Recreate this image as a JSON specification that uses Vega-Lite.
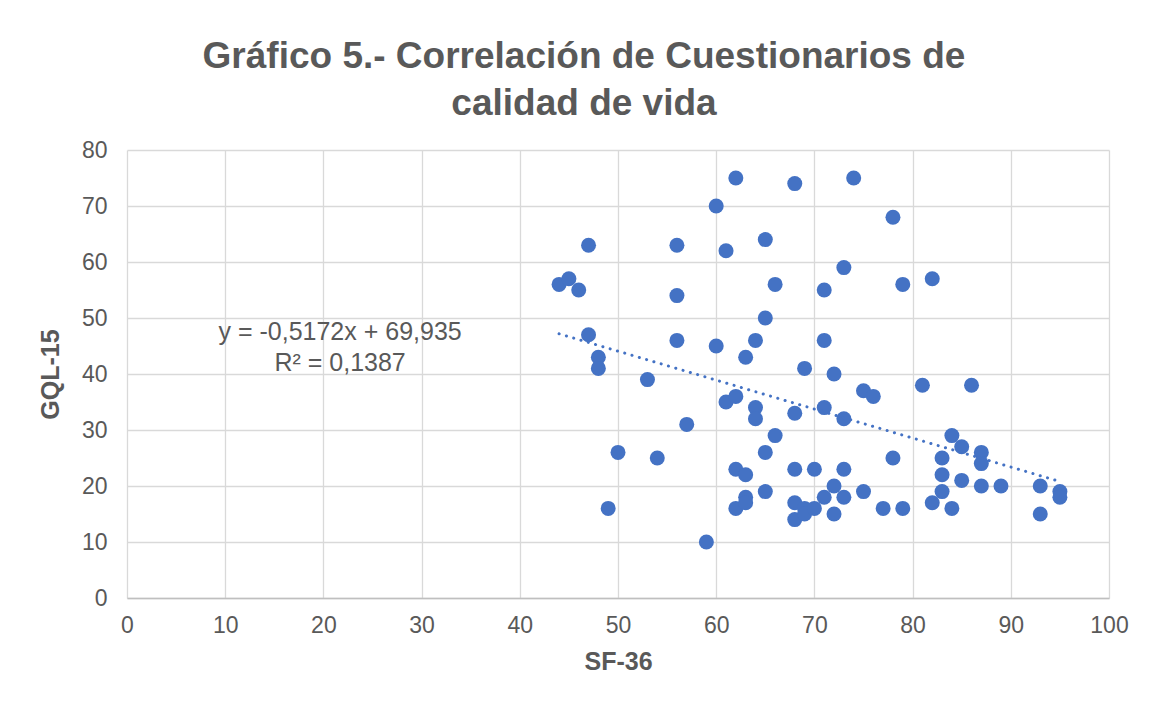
{
  "$schema": "https://vega.github.io/schema/vega-lite/v6.json",
  "autosize": {"type": "none"},
  "width": 982,
  "height": 448,
  "padding": {"left": 127, "top": 150, "right": 44, "bottom": 104},
  "background": "white",
  "title": {
    "text": ["Gráfico 5.- Correlación de Cuestionarios de", "calidad de vida"],
    "font": "Liberation Sans",
    "fontSize": 37,
    "fontWeight": "bold",
    "color": "#595959",
    "lineHeight": 47,
    "anchor": "middle",
    "dx": -34,
    "offset": 16
  },
  "config": {
    "view": {"stroke": null},
    "font": "Liberation Sans",
    "axis": {
      "labelFont": "Liberation Sans",
      "labelFontSize": 23,
      "labelColor": "#595959",
      "labelFlush": false,
      "titleFont": "Liberation Sans",
      "titleFontSize": 25,
      "titleFontWeight": "bold",
      "titleColor": "#595959",
      "gridColor": "#d9d9d9",
      "gridWidth": 1.3,
      "ticks": false
    }
  },
  "datasets": {
    "pts": [
      {"sf36": 44, "gql15": 56}, {"sf36": 45, "gql15": 57}, {"sf36": 46, "gql15": 55},
      {"sf36": 47, "gql15": 63}, {"sf36": 47, "gql15": 47}, {"sf36": 48, "gql15": 43},
      {"sf36": 48, "gql15": 41}, {"sf36": 49, "gql15": 16}, {"sf36": 50, "gql15": 26},
      {"sf36": 53, "gql15": 39}, {"sf36": 54, "gql15": 25}, {"sf36": 56, "gql15": 63},
      {"sf36": 56, "gql15": 54}, {"sf36": 56, "gql15": 46}, {"sf36": 57, "gql15": 31},
      {"sf36": 59, "gql15": 10}, {"sf36": 60, "gql15": 70}, {"sf36": 60, "gql15": 45},
      {"sf36": 61, "gql15": 62}, {"sf36": 61, "gql15": 35}, {"sf36": 62, "gql15": 75},
      {"sf36": 62, "gql15": 36}, {"sf36": 62, "gql15": 23}, {"sf36": 62, "gql15": 16},
      {"sf36": 63, "gql15": 43}, {"sf36": 63, "gql15": 22}, {"sf36": 63, "gql15": 18},
      {"sf36": 63, "gql15": 17}, {"sf36": 64, "gql15": 46}, {"sf36": 64, "gql15": 34},
      {"sf36": 64, "gql15": 32}, {"sf36": 65, "gql15": 64}, {"sf36": 65, "gql15": 50},
      {"sf36": 65, "gql15": 26}, {"sf36": 65, "gql15": 19}, {"sf36": 66, "gql15": 56},
      {"sf36": 66, "gql15": 29}, {"sf36": 68, "gql15": 74}, {"sf36": 68, "gql15": 33},
      {"sf36": 68, "gql15": 23}, {"sf36": 68, "gql15": 17}, {"sf36": 68, "gql15": 14},
      {"sf36": 69, "gql15": 41}, {"sf36": 69, "gql15": 16}, {"sf36": 69, "gql15": 15},
      {"sf36": 70, "gql15": 23}, {"sf36": 70, "gql15": 16}, {"sf36": 71, "gql15": 55},
      {"sf36": 71, "gql15": 46}, {"sf36": 71, "gql15": 34}, {"sf36": 71, "gql15": 18},
      {"sf36": 72, "gql15": 40}, {"sf36": 72, "gql15": 20}, {"sf36": 72, "gql15": 15},
      {"sf36": 73, "gql15": 59}, {"sf36": 73, "gql15": 32}, {"sf36": 73, "gql15": 23},
      {"sf36": 73, "gql15": 18}, {"sf36": 74, "gql15": 75}, {"sf36": 75, "gql15": 37},
      {"sf36": 75, "gql15": 19}, {"sf36": 76, "gql15": 36}, {"sf36": 77, "gql15": 16},
      {"sf36": 78, "gql15": 68}, {"sf36": 78, "gql15": 25}, {"sf36": 79, "gql15": 56},
      {"sf36": 79, "gql15": 16}, {"sf36": 81, "gql15": 38}, {"sf36": 82, "gql15": 57},
      {"sf36": 82, "gql15": 17}, {"sf36": 83, "gql15": 25}, {"sf36": 83, "gql15": 22},
      {"sf36": 83, "gql15": 19}, {"sf36": 84, "gql15": 29}, {"sf36": 84, "gql15": 16},
      {"sf36": 85, "gql15": 27}, {"sf36": 85, "gql15": 21}, {"sf36": 86, "gql15": 38},
      {"sf36": 87, "gql15": 26}, {"sf36": 87, "gql15": 24}, {"sf36": 87, "gql15": 20},
      {"sf36": 89, "gql15": 20}, {"sf36": 93, "gql15": 20}, {"sf36": 93, "gql15": 15},
      {"sf36": 95, "gql15": 19}, {"sf36": 95, "gql15": 18}
    ],
    "trend": [
      {"sf36": 44, "gql15": 47.18},
      {"sf36": 95, "gql15": 20.8}
    ],
    "eq": [
      {"sf36": 21.7, "gql15": 47.5, "label": "y = -0,5172x + 69,935"},
      {"sf36": 21.7, "gql15": 41.96, "label": "R² = 0,1387"}
    ]
  },
  "layer": [
    {
      "data": {"name": "pts"},
      "mark": {"type": "point", "filled": true, "shape": "circle", "size": 225, "color": "#4472C4", "opacity": 1},
      "encoding": {
        "x": {
          "field": "sf36", "type": "quantitative", "title": "SF-36",
          "scale": {"domain": [0, 100], "nice": false, "zero": true},
          "axis": {"values": [0,10,20,30,40,50,60,70,80,90,100], "labelPadding": 16, "titlePadding": 12, "domain": true, "domainColor": "#bfbfbf", "domainWidth": 1.5, "grid": true}
        },
        "y": {
          "field": "gql15", "type": "quantitative", "title": "GQL-15",
          "scale": {"domain": [0, 80], "nice": false, "zero": true},
          "axis": {"values": [0,10,20,30,40,50,60,70,80], "labelPadding": 20, "titlePadding": 18, "domain": false, "grid": true}
        }
      }
    },
    {
      "data": {"name": "trend"},
      "mark": {"type": "line", "color": "#4472C4", "strokeWidth": 3, "strokeDash": [0.1, 7.5], "strokeCap": "round"},
      "encoding": {
        "x": {"field": "sf36", "type": "quantitative"},
        "y": {"field": "gql15", "type": "quantitative"}
      }
    },
    {
      "data": {"name": "eq"},
      "mark": {"type": "text", "font": "Liberation Sans", "fontSize": 25, "color": "#595959", "align": "center", "baseline": "middle"},
      "encoding": {
        "x": {"field": "sf36", "type": "quantitative"},
        "y": {"field": "gql15", "type": "quantitative"},
        "text": {"field": "label"}
      }
    }
  ]
}
